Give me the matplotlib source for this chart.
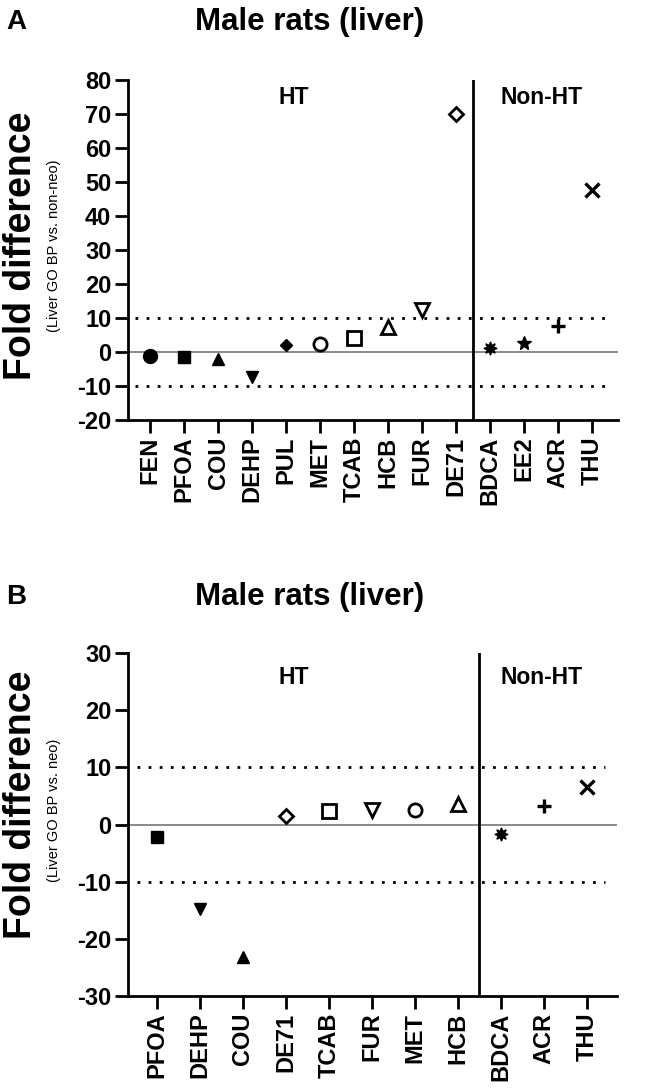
import matplotlib
matplotlib.use("Agg")
import matplotlib.pyplot as plt

plt.rcParams['font.family'] = ['Liberation Sans', 'DejaVu Sans']
plt.rcParams['font.weight'] = 'bold'

# ---------------- data ----------------
cats_a = ["FEN", "PFOA", "COU", "DEHP", "PUL", "MET", "TCAB", "HCB", "FUR", "DE71",
          "BDCA", "EE2", "ACR", "THU"]
vals_a = [-1.2, -1.4, -2.0, -7.4, 2.2, 2.4, 4.2, 7.5, 12.3, 70.0,
          1.2, 2.6, 7.6, 47.6]

cats_b = ["PFOA", "DEHP", "COU", "DE71", "TCAB", "FUR", "MET", "HCB",
          "BDCA", "ACR", "THU"]
vals_b = [-2.2, -14.8, -23.2, 1.5, 2.3, 2.5, 2.6, 3.5, -1.6, 3.2, 6.5]

# marker style per compound: (marker, filled, size)
STYLE = {
    "FEN": ("o", True, 10), "PFOA": ("s", True, 9), "COU": ("^", True, 9),
    "DEHP": ("v", True, 9), "PUL": ("D", True, 6.5), "MET": ("o", False, 9.5),
    "TCAB": ("s", False, 9.5), "HCB": ("^", False, 10), "FUR": ("v", False, 10),
    "DE71": ("D", False, 7), "BDCA": ((8, 1, 0), True, 9.5), "EE2": ("*", True, 10),
    "ACR": ("+", True, 10), "THU": ("x", True, 9.5),
}

W, H = 648, 1091
fig = plt.figure(figsize=(W / 100, H / 100), dpi=100)


def px_rect(l, t, r, b):
    return [l / W, 1 - b / H, (r - l) / W, (b - t) / H]


def fx(x):
    return x / W


def fy(y):
    return 1 - y / H


def panel(rect, cats, vals, ylim, yticks, ndiv, title_y, letter, sub, ylab_y, sub_y, xl, xr, ht_y):
    ax = fig.add_axes(rect)
    x = list(range(len(cats)))
    for xi, c, v in zip(x, cats, vals):
        m, filled, ms = STYLE[c]
        if m in ("+", "x"):
            ax.plot(xi, v, marker=m, ms=ms, mew=2.4, color="black", ls="none", zorder=5)
        elif filled:
            ax.plot(xi, v, marker=m, ms=ms, mfc="black", mec="black", mew=1, ls="none", zorder=5)
        else:
            ax.plot(xi, v, marker=m, ms=ms, mfc="white", mec="black", mew=2, ls="none", zorder=5)
    ax.set_xlim(xl, xr)
    ax.set_ylim(*ylim)
    ax.axhline(0, color="#808080", lw=1.3, zorder=1)
    for yv in (10, -10):
        ax.plot([xl + 0.22, xr - 0.28], [yv, yv], color="black", lw=2,
                ls=(0, (1, 3)), dash_capstyle="butt", zorder=1)
    ax.axvline(ndiv - 0.5, color="black", lw=2, zorder=2)
    ax.set_xticks(x)
    ax.set_xticklabels(cats, rotation=90, fontsize=17, fontweight="bold")
    ax.set_yticks(yticks)
    ax.set_yticklabels([str(t) for t in yticks], fontsize=17, fontweight="bold")
    for s in ("top", "right"):
        ax.spines[s].set_visible(False)
    for s in ("left", "bottom"):
        ax.spines[s].set_linewidth(2)
    ax.tick_params(axis="both", width=2, length=9.5, pad=2.5)
    fig.text(fx(294), fy(ht_y), "HT", ha="center", va="center", fontsize=16.5, fontweight="bold")
    fig.text(fx(542), fy(ht_y), "Non-HT", ha="center", va="center", fontsize=16.5, fontweight="bold")
    fig.text(fx(310), fy(title_y), "Male rats (liver)", ha="center", va="center",
             fontsize=22.5, fontweight="bold")
    fig.text(fx(6), fy(title_y), letter, ha="left", va="center", fontsize=20, fontweight="bold")
    fig.text(fx(21), fy(ylab_y), "Fold difference", rotation=90, ha="center", va="center",
             fontsize=27, fontweight="bold")
    fig.text(fx(54), fy(sub_y), sub, rotation=90, ha="center", va="center",
             fontsize=10.5, fontweight="normal")
    return ax


panel(px_rect(128, 80, 618, 420), cats_a, vals_a, (-20, 80), list(range(-20, 81, 10)), 10,
      22, "A", "(Liver GO BP vs. non-neo)", 246, 246, -0.65, 13.76, 97)
panel(px_rect(128, 653, 617, 996), cats_b, vals_b, (-30, 30), list(range(-30, 31, 10)), 8,
      597, "B", "(Liver GO BP vs. neo)", 805, 810, -0.67, 10.7, 677)

fig.savefig("out.png", dpi=100)
